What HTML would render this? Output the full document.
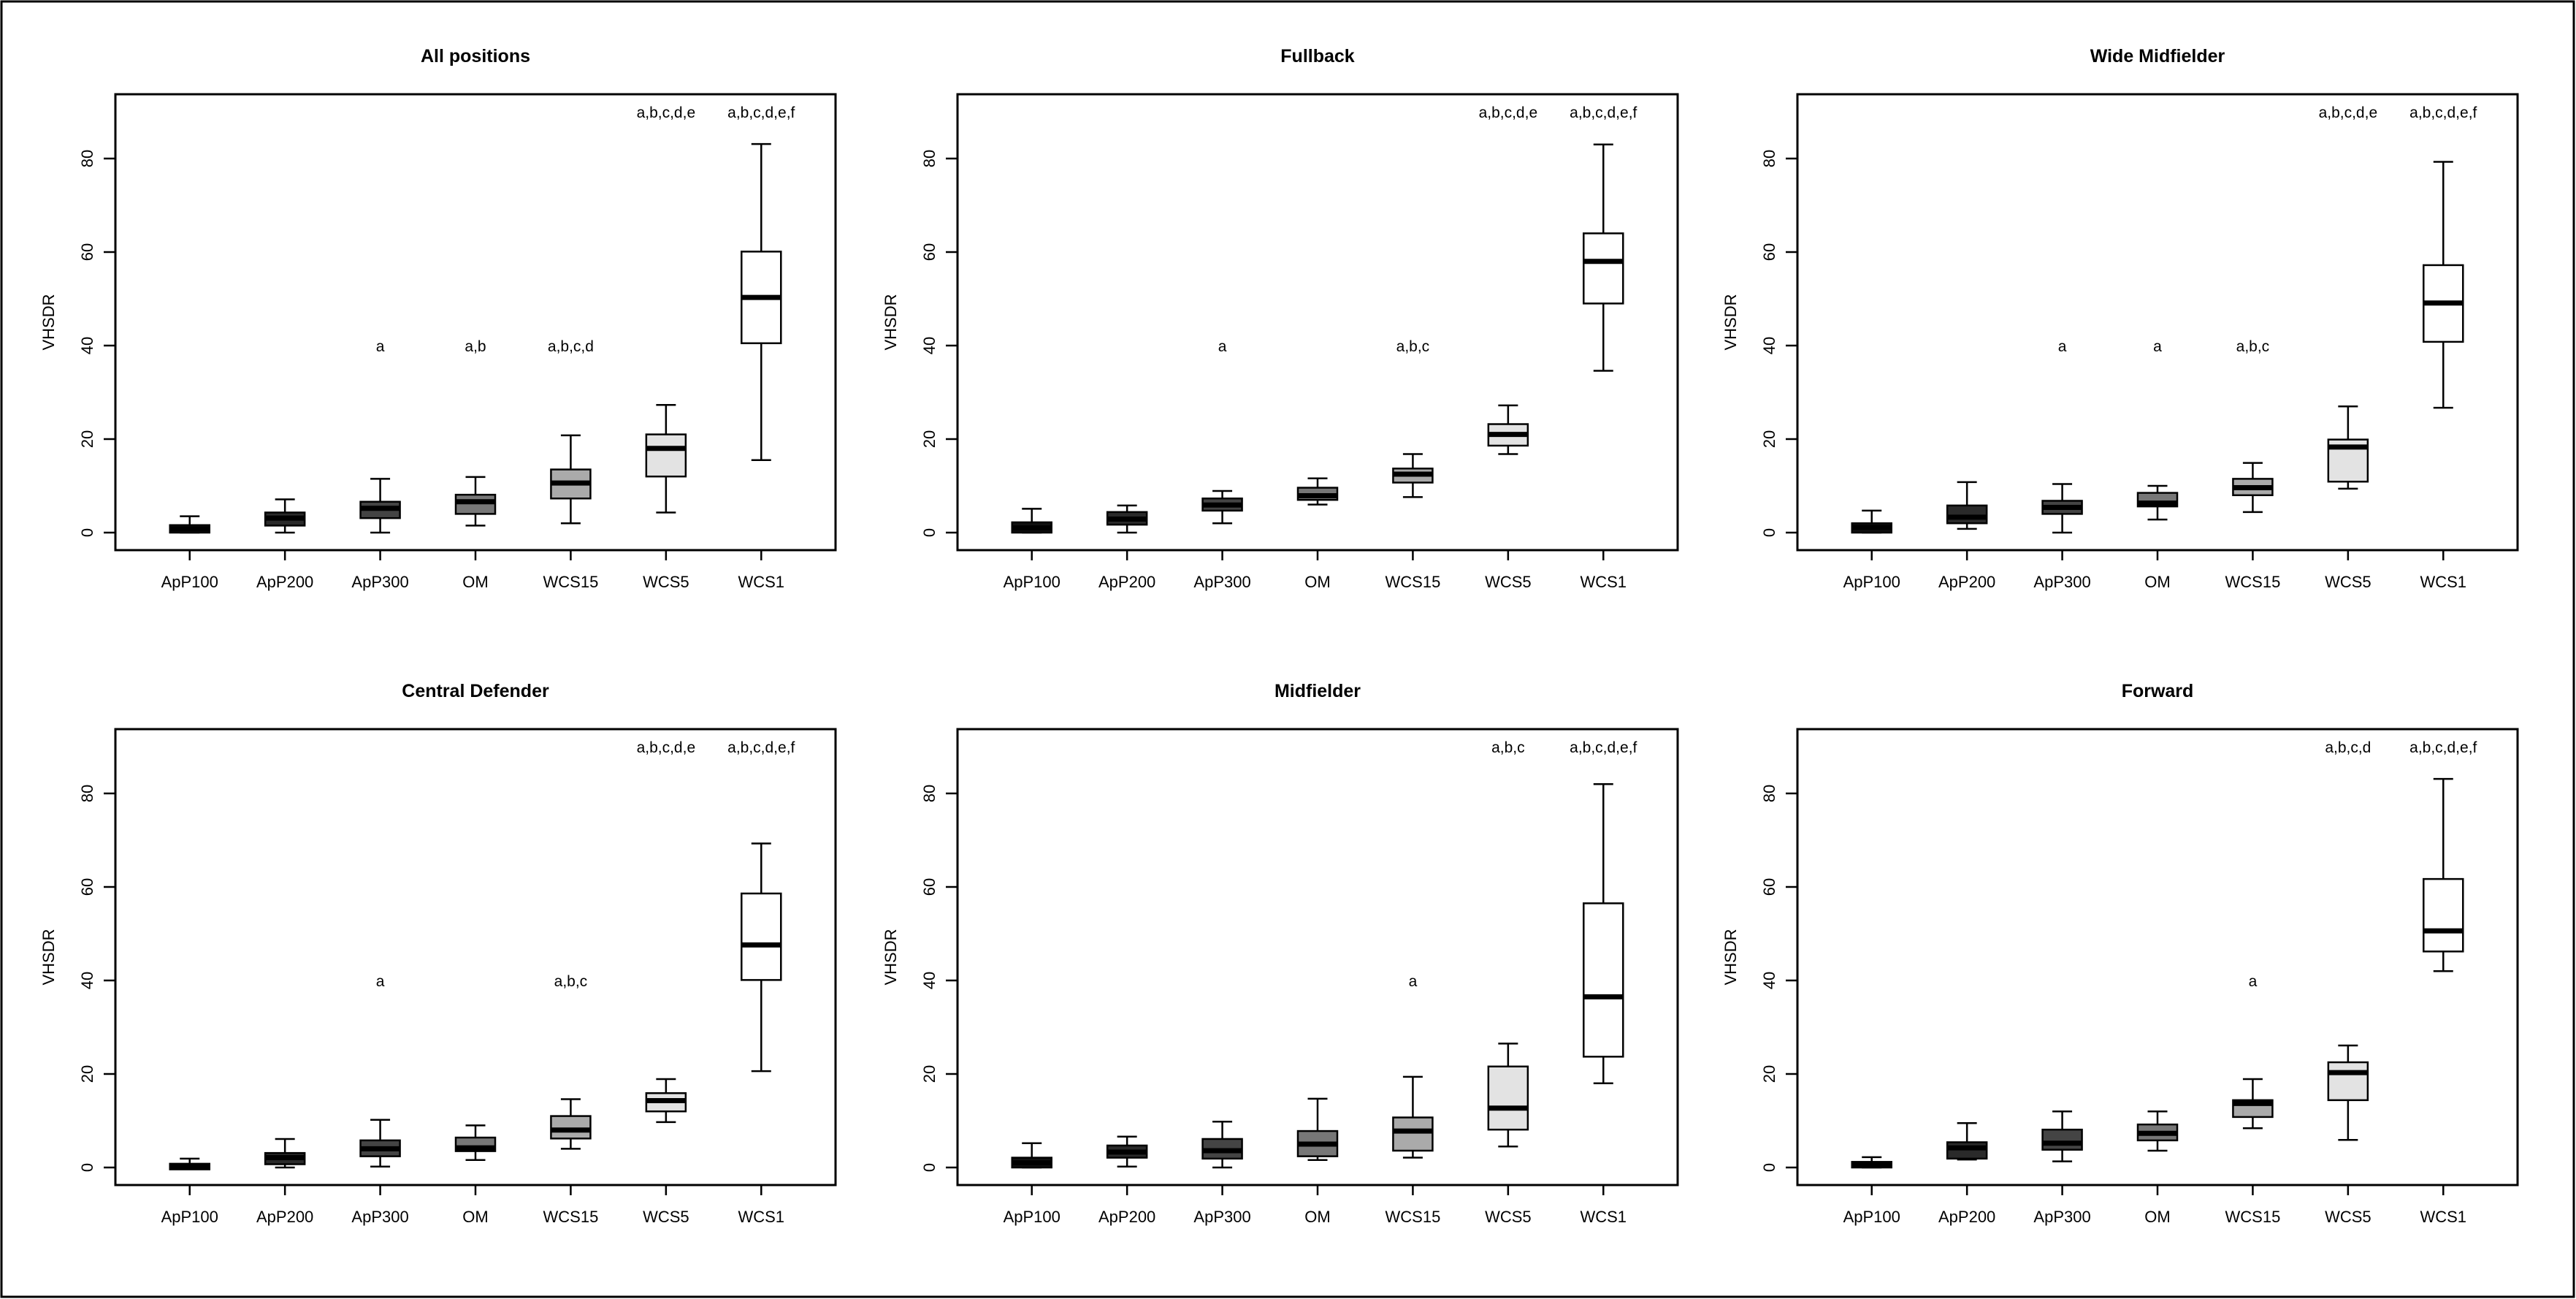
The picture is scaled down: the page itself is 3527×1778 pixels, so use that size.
<!DOCTYPE html>
<html><head><meta charset="utf-8"><style>
html,body{margin:0;padding:0;background:#fff}
svg{display:block}
text{font-family:"Liberation Sans",Arial,sans-serif;fill:#000}
</style></head><body>
<svg id="fig" width="3527" height="1778" viewBox="0 0 3527 1778" xmlns="http://www.w3.org/2000/svg">
<rect x="2" y="2" width="3522" height="1773" fill="#fff" stroke="#000" stroke-width="3"/>
</svg>
<script>
const categories = ["ApP100","ApP200","ApP300","OM","WCS15","WCS5","WCS1"];
const fills = ["#111111","#2a2a2a","#444444","#777777","#aaaaaa","#e3e3e3","#ffffff"];
const yTicks = [0,20,40,60,80];
const panelTitles = ["All positions","Fullback","Wide Midfielder","Central Defender","Midfielder","Forward"];

const lowAll  = [0,0,0,1.5,2,4.3,15.5];
const q1All   = [0,1.5,3.1,4,7.3,12,40.5];
const medAll  = [0.8,3.1,5.2,6.6,10.6,18,50.3];
const q3All   = [1.6,4.3,6.6,8.1,13.5,21,60.1];
const highAll = [3.5,7.1,11.5,11.9,20.8,27.3,83.1];

const lowFB  = [0,0,2,6,7.6,16.8,34.6];
const q1FB   = [0,1.7,4.7,7,10.7,18.6,49];
const medFB  = [1,2.9,5.9,7.9,12.5,21,58];
const q3FB   = [2.2,4.4,7.3,9.6,13.7,23.2,64];
const highFB = [5.1,5.8,8.9,11.6,16.8,27.2,83];

const lowWM  = [0,0.8,0,2.8,4.4,9.4,26.7];
const q1WM   = [0,2,4,5.6,8,10.9,40.8];
const medWM  = [1.1,3.3,5.4,6.3,9.6,18.3,49.1];
const q3WM   = [2,5.8,6.8,8.5,11.5,19.9,57.2];
const highWM = [4.7,10.8,10.4,10,14.9,27,79.3];

const lowCD  = [0,0,0.2,1.6,4,9.7,20.6];
const q1CD   = [-0.4,0.7,2.4,3.5,6.2,12,40.1];
const medCD  = [0.3,2.1,4,4.2,8,14.3,47.6];
const q3CD   = [0.8,3.1,5.8,6.4,11,15.9,58.6];
const highCD = [1.9,6.1,10.2,9,14.6,18.9,69.3];

const lowMF  = [0,0.2,0,1.6,2.1,4.5,18];
const q1MF   = [0,2.1,1.9,2.4,3.6,8.1,23.7];
const medMF  = [1,3.3,3.6,5,7.8,12.7,36.5];
const q3MF   = [2.1,4.7,6.1,7.8,10.7,21.6,56.5];
const highMF = [5.2,6.6,9.8,14.7,19.4,26.5,82];

const lowFW  = [0,1.7,1.3,3.6,8.4,5.9,42];
const q1FW   = [0,1.9,3.8,5.8,10.8,14.4,46.2];
const medFW  = [0.6,4.2,5.2,7.3,13.7,20.3,50.6];
const q3FW   = [1.2,5.4,8.1,9.2,14.4,22.5,61.7];
const highFW = [2.2,9.5,12,12,18.9,26.1,83.1];

const lettersAll = ["","","a","a,b","a,b,c,d","a,b,c,d,e","a,b,c,d,e,f"];
const lettersFB  = ["","","a","","a,b,c","a,b,c,d,e","a,b,c,d,e,f"];
const lettersWM  = ["","","a","a","a,b,c","a,b,c,d,e","a,b,c,d,e,f"];
const lettersCD  = ["","","a","","a,b,c","a,b,c,d,e","a,b,c,d,e,f"];
const lettersMF  = ["","","","","a","a,b,c","a,b,c,d,e,f"];
const lettersFW  = ["","","","","a","a,b,c,d","a,b,c,d,e,f"];
const letterLevels = [40,40,40,40,40,90,90];

const panels = [
  {low:lowAll,q1:q1All,med:medAll,q3:q3All,high:highAll,lab:lettersAll},
  {low:lowFB,q1:q1FB,med:medFB,q3:q3FB,high:highFB,lab:lettersFB},
  {low:lowWM,q1:q1WM,med:medWM,q3:q3WM,high:highWM,lab:lettersWM},
  {low:lowCD,q1:q1CD,med:medCD,q3:q3CD,high:highCD,lab:lettersCD},
  {low:lowMF,q1:q1MF,med:medMF,q3:q3MF,high:highMF,lab:lettersMF},
  {low:lowFW,q1:q1FW,med:medFW,q3:q3FW,high:highFW,lab:lettersFW}
];

const NS = "http://www.w3.org/2000/svg";
const svg = document.getElementById("fig");
function mk(tag, attrs, parent){
  const e = document.createElementNS(NS, tag);
  for (const k in attrs) e.setAttribute(k, attrs[k]);
  (parent||svg).appendChild(e);
  return e;
}
const lefts = [158,1311,2461], tops = [129,998];
const W = 986, H = 624;
const yMin = -3.75, yMax = 93.75;

panels.forEach((p, pi) => {
  const L = lefts[pi%3], T = tops[Math.floor(pi/3)];
  const g = mk("g", {});
  
  
  const ys = v => T + H - (v - yMin) / (yMax - yMin) * H;
  const xs = i => L + (i + 1 - 0.22) * (W / 7.56);

  const t = mk("text", {x: L + W/2, y: T - 44, "text-anchor":"middle", "font-size":25, "font-weight":"bold"}, g);
  t.textContent = panelTitles[pi];
  
  

  const fr = mk("rect", {x:L, y:T, width:W, height:H, fill:"none", stroke:"#000", "stroke-width":3}, g);
  
  

  const yl = mk("text", {x:0, y:0, transform:`translate(${L-84},${T+H/2}) rotate(-90)`, "text-anchor":"middle", "font-size":22}, g);
  yl.textContent = "VHSDR";
  
  

  yTicks.forEach(v => {
    const y = ys(v);
    const tk = mk("line", {x1:L-16, x2:L, y1:y, y2:y, stroke:"#000", "stroke-width":2.5}, g);
    
    
    const tl = mk("text", {x:0, y:0, transform:`translate(${L-31},${y}) rotate(-90)`, "text-anchor":"middle", "font-size":22}, g);
    tl.textContent = String(v);
    
    
  });

  categories.forEach((c, i) => {
    const x = xs(i);
    const tk = mk("line", {x1:x, x2:x, y1:T+H, y2:T+H+14, stroke:"#000", "stroke-width":2.5}, g);
    
    
    const tl = mk("text", {x:x, y:T+H+51, "text-anchor":"middle", "font-size":22}, g);
    tl.textContent = c;
    
    

    const bw = 54, cw = 27;
    const bg = mk("g", {}, g);
    
    
    mk("line", {x1:x, x2:x, y1:ys(p.high[i]), y2:ys(p.q3[i]), stroke:"#000", "stroke-width":2.5}, bg);
    mk("line", {x1:x, x2:x, y1:ys(p.q1[i]), y2:ys(p.low[i]), stroke:"#000", "stroke-width":2.5}, bg);
    mk("line", {x1:x-cw/2, x2:x+cw/2, y1:ys(p.high[i]), y2:ys(p.high[i]), stroke:"#000", "stroke-width":2.5}, bg);
    mk("line", {x1:x-cw/2, x2:x+cw/2, y1:ys(p.low[i]), y2:ys(p.low[i]), stroke:"#000", "stroke-width":2.5}, bg);
    mk("rect", {x:x-bw/2, y:ys(p.q3[i]), width:bw, height:Math.max(1, ys(p.q1[i])-ys(p.q3[i])), fill:fills[i], stroke:"#000", "stroke-width":2.5}, bg);
    mk("line", {x1:x-bw/2, x2:x+bw/2, y1:ys(p.med[i]), y2:ys(p.med[i]), stroke:"#000", "stroke-width":7}, bg);

    if (p.lab[i]) {
      const a = mk("text", {x:x, y:ys(letterLevels[i])+8, "text-anchor":"middle", "font-size":21}, g);
      a.textContent = p.lab[i];
      
      
    }
  });
});
</script>
</body></html>
